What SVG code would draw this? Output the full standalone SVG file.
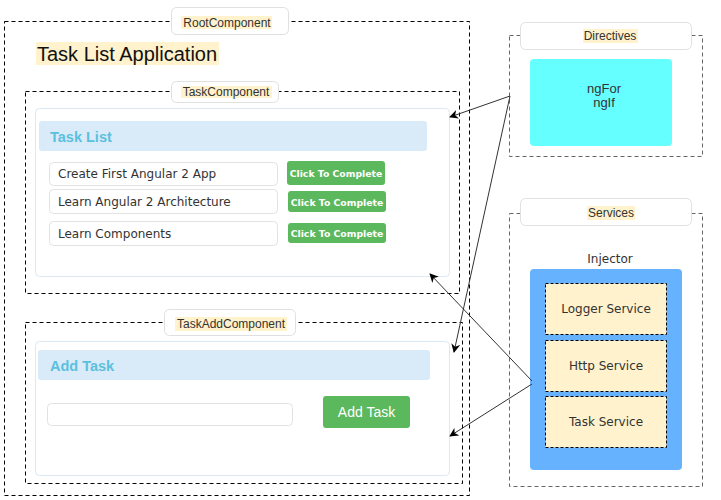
<svg xmlns="http://www.w3.org/2000/svg" width="721" height="500" viewBox="0 0 721 500">
<style>
.dash{fill:none;stroke:#000;stroke-width:1;stroke-dasharray:4 3}
.dashg{fill:none;stroke:#666;stroke-width:1;stroke-dasharray:4 3}
.lbl{fill:#fff;stroke:#e0e0e0;stroke-width:1}
.hl{fill:#fff2cc}
.arial{font-family:"Liberation Sans",Arial,sans-serif}
.ver{font-family:"DejaVu Sans",Verdana,sans-serif}
.lt{font-size:12px;fill:#333;text-anchor:middle}
.panel{fill:#fff;stroke:#dbe8f5;stroke-width:1}
.head{fill:#d9ebf8}
.htxt{font-family:"Liberation Sans",Arial,sans-serif;font-weight:bold;font-size:14.5px;fill:#5bc0de}
.inp{fill:#fff;stroke:#e2e2e2;stroke-width:1}
.row{font-family:"DejaVu Sans",Verdana,sans-serif;font-size:12px;fill:#333}
.btn{fill:#5cb85c}
.btxt{font-family:"DejaVu Sans",Verdana,sans-serif;font-weight:bold;font-size:9.3px;fill:#fff;text-anchor:middle}
.svc{fill:#fff2cc;stroke:#000;stroke-width:1;stroke-dasharray:3 2}
.stxt{font-family:"DejaVu Sans",Verdana,sans-serif;font-size:12px;fill:#333;text-anchor:middle}
.con{fill:none;stroke:#333;stroke-width:1;marker-end:url(#arr)}
</style>
<defs>
<marker id="arr" viewBox="0 0 10 10" refX="9" refY="5" markerWidth="9" markerHeight="9" markerUnits="userSpaceOnUse" orient="auto">
<path d="M0,0 L10,5 L0,10 L3,5 z" fill="#000"/>
</marker>
</defs>
<rect width="721" height="500" fill="#fff"/>

<g id="root">
<rect class="dash" x="4.5" y="21.5" width="465" height="474"/>
<rect class="lbl" x="171.5" y="7.5" width="117" height="27" rx="5"/>
<rect class="hl" x="181" y="16" width="91" height="13"/>
<text class="arial lt" x="227" y="26.5">RootComponent</text>
<rect class="hl" x="36" y="42" width="183" height="23"/>
<text class="arial" x="37" y="61" font-size="20" fill="#111">Task List Application</text>
</g>

<g id="taskComponent">
<rect class="dash" x="25.5" y="91.5" width="434" height="202"/>
<rect class="lbl" x="171.5" y="81.5" width="107" height="21" rx="5"/>
<rect class="hl" x="181" y="86" width="91" height="12"/>
<text class="arial lt" x="226" y="96">TaskComponent</text>
<rect class="panel" x="35.5" y="108.5" width="414" height="168" rx="4"/>
<rect class="head" x="39" y="121" width="388" height="30" rx="3"/>
<text class="htxt" x="50" y="142">Task List</text>
<rect class="inp" x="49.5" y="162.5" width="228" height="23" rx="4"/>
<text class="row" x="58" y="178">Create First Angular 2 App</text>
<rect class="inp" x="49.5" y="189.5" width="228" height="24" rx="4"/>
<text class="row" x="58" y="206">Learn Angular 2 Architecture</text>
<rect class="inp" x="49.5" y="221.5" width="228" height="24" rx="4"/>
<text class="row" x="58" y="238">Learn Components</text>
<rect class="btn" x="287" y="161" width="98" height="24" rx="3"/>
<text class="btxt" x="336" y="177">Click To Complete</text>
<rect class="btn" x="288" y="191" width="98" height="21" rx="3"/>
<text class="btxt" x="337" y="205.5">Click To Complete</text>
<rect class="btn" x="288" y="223" width="98" height="20" rx="3"/>
<text class="btxt" x="337" y="237">Click To Complete</text>
</g>

<g id="taskAddComponent">
<rect class="dash" x="25.5" y="322.5" width="437" height="161"/>
<rect class="lbl" x="164.5" y="309.5" width="131" height="26" rx="5"/>
<rect class="hl" x="175" y="317" width="112" height="14"/>
<text class="arial lt" x="231" y="328">TaskAddComponent</text>
<rect class="panel" x="35.5" y="341.5" width="414" height="134" rx="4"/>
<rect class="head" x="38" y="350" width="392" height="30" rx="3"/>
<text class="htxt" x="50" y="371">Add Task</text>
<rect class="inp" x="47.5" y="403.5" width="245" height="22" rx="4"/>
<rect class="btn" x="323" y="396" width="87" height="32" rx="3"/>
<text class="arial" x="366.5" y="417" font-size="14" fill="#fff" text-anchor="middle">Add Task</text>
</g>

<g id="directives">
<rect class="dashg" x="509.5" y="35.5" width="193" height="121"/>
<rect class="lbl" x="520.5" y="22.5" width="171" height="27" rx="5"/>
<rect class="hl" x="583" y="29" width="55" height="14"/>
<text class="arial lt" x="610" y="40">Directives</text>
<rect x="530" y="59" width="142" height="87" rx="4" fill="#66ffff"/>
<text class="arial" x="604" y="93" font-size="13" fill="#333" text-anchor="middle">ngFor</text>
<text class="arial" x="604" y="107" font-size="13" fill="#333" text-anchor="middle">ngIf</text>
</g>

<g id="services">
<rect class="dashg" x="509.5" y="213.5" width="193" height="273"/>
<rect class="lbl" x="520.5" y="198.5" width="171" height="27" rx="5"/>
<rect class="hl" x="587" y="206" width="48" height="14"/>
<text class="arial lt" x="611" y="217">Services</text>
<text class="stxt" x="610" y="263">Injector</text>
<rect x="530" y="269" width="152" height="201" rx="4" fill="#66b2ff"/>
<g id="loggerService">
<rect class="svc" x="545.5" y="283.5" width="121" height="51"/>
<text class="stxt" x="606" y="313">Logger Service</text>
</g>
<g id="httpService">
<rect class="svc" x="545.5" y="340.5" width="121" height="51"/>
<text class="stxt" x="606" y="370">Http Service</text>
</g>
<g id="taskService">
<rect class="svc" x="545.5" y="396.5" width="121" height="51"/>
<text class="stxt" x="606" y="426">Task Service</text>
</g>
</g>

<g id="connectors">
<path class="con" d="M510,96 L450,117"/>
<path class="con" d="M510,96 L454,352"/>
<path class="con" d="M532,381 L430,274"/>
<path class="con" d="M532,384 L450,436"/>
</g>
</svg>
